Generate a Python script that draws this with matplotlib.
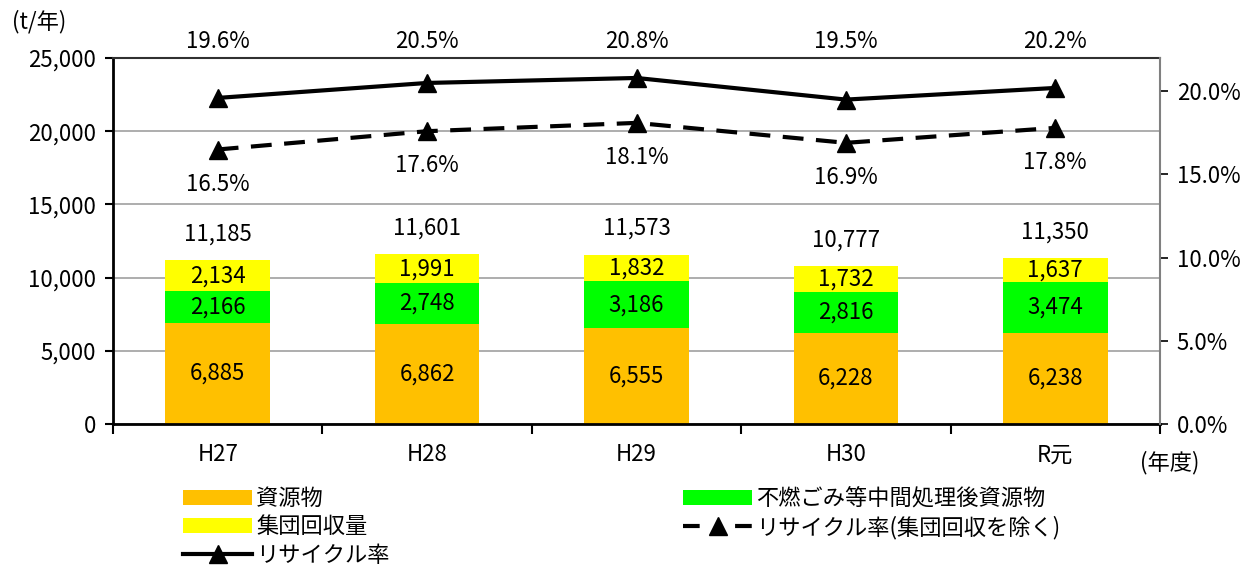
import matplotlib.pyplot as plt
from matplotlib.lines import Line2D
import numpy as np

plt.rcParams['font.family'] = ['Noto Sans CJK JP', 'DejaVu Sans']

years = ['H27', 'H28', 'H29', 'H30', 'R元']
shigen = [6885, 6862, 6555, 6228, 6238]
funen = [2166, 2748, 3186, 2816, 3474]
shudan = [2134, 1991, 1832, 1732, 1637]
totals = [11185, 11601, 11573, 10777, 11350]
rate = [19.6, 20.5, 20.8, 19.5, 20.2]
rate_ex = [16.5, 17.6, 18.1, 16.9, 17.8]

c_orange = '#FFC000'
c_green = '#00FF00'
c_yellow = '#FFFF00'

fig = plt.figure(figsize=(12.43, 5.74), dpi=100)
ax = fig.add_axes([113 / 1243, 1 - 424 / 574, 1047 / 1243, 366 / 574])
x = np.arange(len(years))
w = 0.5
fs = 16

b1 = ax.bar(x, shigen, w, color=c_orange, zorder=2)
b2 = ax.bar(x, funen, w, bottom=shigen, color=c_green, zorder=2)
bot3 = np.array(shigen) + np.array(funen)
b3 = ax.bar(x, shudan, w, bottom=bot3, color=c_yellow, zorder=2)

for i in range(len(years)):
    ax.text(x[i], shigen[i] / 2, f'{shigen[i]:,}', ha='center', va='center', fontsize=fs)
    ax.text(x[i], shigen[i] + funen[i] / 2, f'{funen[i]:,}', ha='center', va='center', fontsize=fs)
    ax.text(x[i], bot3[i] + shudan[i] / 2, f'{shudan[i]:,}', ha='center', va='center', fontsize=fs)
    ax.text(x[i], totals[i] + 1000, f'{totals[i]:,}', ha='center', va='bottom', fontsize=fs)

ax.set_xlim(-0.5, len(years) - 0.5)
ax.set_ylim(0, 25000)
ax.set_yticks(np.arange(0, 25001, 5000))
ax.set_yticklabels([f'{v:,}' for v in range(0, 25001, 5000)], fontsize=fs)
ax.yaxis.grid(True, color='#A0A0A0', linewidth=1.2, zorder=0)
ax.set_axisbelow(True)
ax.set_xticks(x)
ax.set_xticklabels(years, fontsize=fs)
ax.set_xticks(np.arange(-0.5, len(years), 1), minor=True)
ax.tick_params(axis='x', which='major', length=0, pad=14)
ax.tick_params(axis='x', which='minor', length=7, width=1.5, direction='out')
ax.tick_params(axis='y', length=6, width=1.5, direction='out', pad=6)
for s in ['left', 'bottom']:
    ax.spines[s].set_linewidth(2)
    ax.spines[s].set_color('black')
ax.spines['top'].set_linewidth(1.5)
ax.spines['top'].set_color('#303030')
ax.spines['right'].set_visible(False)

ax2 = ax.twinx()
ax2.set_ylim(0, 22)
ax2.set_yticks(np.arange(0, 21, 5))
ax2.set_yticklabels([f'{v:.1f}%' for v in range(0, 21, 5)], fontsize=fs)
ax2.tick_params(axis='y', length=6, width=1.2, direction='out', colors='black', pad=6)
ax2.spines['right'].set_color('#808080')
ax2.spines['right'].set_linewidth(1.5)
for s in ['left', 'bottom', 'top']:
    ax2.spines[s].set_visible(False)

l1, = ax2.plot(x, rate, color='black', lw=3, marker='^', ms=13, zorder=3)
l2, = ax2.plot(x, rate_ex, color='black', lw=3, ls=(0, (5, 3)), marker='^', ms=13, zorder=3)
for i in range(len(years)):
    ax2.text(x[i], 22.3, f'{rate[i]:.1f}%', ha='center', va='bottom', fontsize=fs)
    ax2.text(x[i], rate_ex[i] - 1.4, f'{rate_ex[i]:.1f}%', ha='center', va='top', fontsize=fs)

fig.text(12 / 1243, 1 - 22 / 574, '(t/年)', fontsize=fs, va='center')
fig.text(1140 / 1243, 1 - 463 / 574, '(年度)', fontsize=fs, va='center')

# legend handle for the dashed line: dash - marker - dash
l2_leg = Line2D([], [], color='black', lw=3, ls=(0, (4, 8.5)), marker='^', ms=13)

fig.legend([b1, b3, l1], ['資源物', '集団回収量', 'リサイクル率'],
           loc='upper left', bbox_to_anchor=(172 / 1243, 1 - 476 / 574),
           frameon=False, fontsize=16, handlelength=3.1, handletextpad=0.2,
           labelspacing=0.24, borderpad=0)
fig.legend([b2, l2_leg], ['不燃ごみ等中間処理後資源物', 'リサイクル率(集団回収を除く)'],
           loc='upper left', bbox_to_anchor=(672 / 1243, 1 - 476 / 574),
           frameon=False, fontsize=16, handlelength=3.1, handletextpad=0.2,
           labelspacing=0.24, borderpad=0)

fig.savefig('out.png', dpi=100)
